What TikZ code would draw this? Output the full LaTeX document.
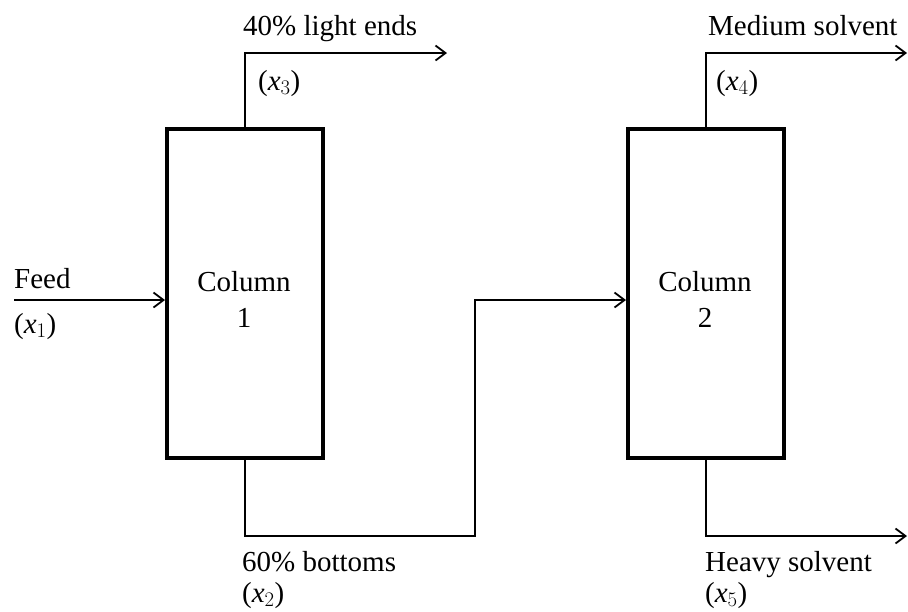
\documentclass[tikz,border=0pt]{standalone}
\usepackage{fontspec}
\setmainfont{Liberation Serif}
\usetikzlibrary{arrows.meta, positioning}

\begin{document}
\begin{tikzpicture}[
  x=1pt, y=-1pt,
  column/.style={rectangle, draw=black, line width=4pt, minimum width=156pt, minimum height=329pt},
  coltxt/.style={align=center, inner sep=0pt, anchor=base, font=\fontsize{29}{36}\selectfont},
  streamtxt/.style={font=\fontsize{29}{32}\selectfont, inner sep=0pt, anchor=base west},
  arrow/.style={-{Straight Barb[length=10pt,width=15pt]}, line width=1.8pt}
]
\useasboundingbox (0,0) rectangle (908,611);

\node (col1) [column] at (245,293.5) {};
\node (col2) [column] at (706,293.5) {};
\node (col1name) [coltxt] at (244,327) {Column\\1};
\node (col2name) [coltxt] at (705,327) {Column\\2};

\coordinate (feedin) at (14,300);
\coordinate (top1) at (447,53);
\coordinate (bend1) at (475,536);
\coordinate (top2) at (907,53);
\coordinate (bot2) at (907,536);

\node (feed) [streamtxt] at (14,288) {Feed};
\node (xone) [streamtxt] at (14,333) {($\mathit{x}_1$)};
\node (light) [streamtxt] at (243,35) {40\% light ends};
\node (xthree) [streamtxt] at (258,90) {($\mathit{x}_3$)};
\node (bottoms) [streamtxt] at (242,571) {60\% bottoms};
\node (xtwo) [streamtxt] at (242,602) {($\mathit{x}_2$)};
\node (medium) [streamtxt] at (708,35) {Medium solvent};
\node (xfour) [streamtxt] at (716,90) {($\mathit{x}_4$)};
\node (heavy) [streamtxt] at (705,571) {Heavy solvent};
\node (xfive) [streamtxt] at (705,602) {($\mathit{x}_5$)};

\draw [arrow] (feedin) -- ([yshift=-6.5pt]col1.west);
\draw [arrow] (col1.north) |- (top1);
\draw [arrow] (col1.south) |- (bend1) |- ([yshift=-6.5pt]col2.west);
\draw [arrow] (col2.north) |- (top2);
\draw [arrow] (col2.south) |- (bot2);

\end{tikzpicture}
\end{document}
